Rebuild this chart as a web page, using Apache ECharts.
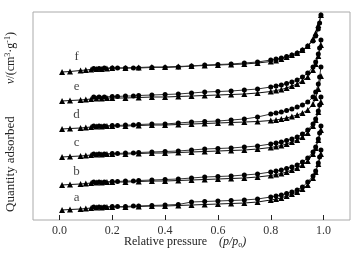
<!DOCTYPE html>
<html>
<head>
<meta charset="utf-8">
<script src="https://cdn.jsdelivr.net/npm/echarts@6/dist/echarts.min.js"></script>
<style>
  html, body { margin: 0; padding: 0; background: #fff; }
  #chart { width: 363px; height: 258px; }
</style>
</head>
<body>
<div id="chart"></div>
<script>
// relative pressure points (adsorption goes up, desorption comes back down)
const adsP = [0.01, 0.04, 0.08, 0.10, 0.12, 0.14, 0.16, 0.18, 0.20, 0.25, 0.30, 0.35, 0.40, 0.45, 0.50, 0.55,
  0.60, 0.65, 0.70, 0.75, 0.80, 0.82, 0.84, 0.86, 0.88, 0.90, 0.92, 0.94, 0.96, 0.97, 0.98, 0.99];
const desP = [0.99, 0.985, 0.98, 0.97, 0.96, 0.94, 0.92, 0.90, 0.88, 0.86, 0.84, 0.82, 0.80, 0.75, 0.70, 0.65,
  0.60, 0.55, 0.50, 0.45, 0.40, 0.35, 0.30, 0.28, 0.25, 0.22, 0.20, 0.17, 0.15, 0.13];

// quantity adsorbed (curves stacked with an offset, arbitrary units)
const adsA = [10, 10.5, 11, 11.5, 12, 12.5, 12.5, 13, 13, 13, 13.5, 14, 14, 14.5, 15, 15.5, 16, 16.5, 17, 18, 20, 21, 22, 24, 26, 28, 31, 35, 42, 48, 56, 66];
const desA = [70, 63, 57, 49, 44, 38, 33, 30, 28, 26.5, 25, 24, 23, 21, 20, 19.5, 19, 18.5, 18, 15.5, 15, 14.5, 14, 14, 13.5, 13.5, 13.5, 13, 13, 13];
const adsB = [35, 35.5, 36, 36.5, 37, 37.5, 37.5, 38, 38, 38, 38.5, 39, 39, 39.5, 40, 40.5, 41, 41.5, 42, 43, 44.5, 45.5, 46.5, 48, 50, 52, 55, 59, 66, 72, 80, 90];
const desB = [94, 87, 81, 73, 68, 62, 58, 55, 53, 51.5, 50, 49, 48, 46, 45, 44, 43.5, 43, 42, 41, 40.5, 40, 39.5, 39, 39, 38.5, 38.5, 38, 38, 38];
const adsC = [63, 63.5, 64, 64.5, 65, 65.5, 65.5, 66, 66, 66, 66.5, 67, 67, 67.5, 68, 68.5, 69, 69.5, 70, 71, 72.5, 73.5, 74.5, 76, 78, 80, 83, 87, 94, 100, 108, 118];
const desC = [123, 115, 109, 101, 96, 90, 86, 83, 81, 79.5, 78, 77, 76, 74, 73, 72, 71.5, 71, 70, 69, 68.5, 68, 67.5, 67, 67, 66.5, 66.5, 66, 66, 66];
const adsD = [91, 91.5, 92, 92.5, 93, 93.5, 93.5, 94, 94, 94, 94.5, 95, 95, 95.5, 96, 96.5, 97, 97.5, 98, 98.5, 99.5, 100, 101, 102, 103.5, 105, 107, 110, 116, 122, 131, 144];
const desD = [153, 143, 136, 128, 123, 118, 115, 113, 111, 109.5, 108, 107, 106, 103, 101, 100, 99, 98.5, 98, 97, 96, 96, 95.5, 95, 95, 94.5, 94.5, 94, 94, 94];
const adsE = [119, 119.5, 120, 120.5, 121, 121.5, 121.5, 122, 122, 122, 122.5, 123, 123, 123.5, 124, 124.5, 125, 125.5, 126, 127, 128.5, 129.5, 130.5, 132, 134, 136, 139, 143, 150, 156, 164, 175];
const desE = [180, 172, 166, 158, 153, 147, 143, 140, 138, 136.5, 135, 134, 133, 131, 130, 129, 128.5, 128, 127, 126, 125.5, 125, 124.5, 124, 124, 123.5, 123.5, 123, 123, 123];
const adsF = [148, 148.5, 149.5, 150, 150.5, 151, 151, 151.5, 152, 152, 152.5, 153, 153, 153.5, 154, 154.5, 155, 155.5, 156, 157, 158.5, 159.5, 161, 163, 165, 167, 170, 174, 181, 187, 195, 205];
const desF = [205, 197, 191, 184, 179, 174, 170, 167, 165, 163.5, 162, 161, 160, 158, 157, 156, 155.5, 155, 154, 153, 152.5, 152.5, 152, 152, 152, 152, 152, 152, 151.5, 151.5];

const curveNames = ['a', 'b', 'c', 'd', 'e', 'f'];
const labelP = [0.065, 0.065, 0.065, 0.065, 0.065, 0.065];
const labelY = [22, 48, 77, 105, 133, 163];
const xTicks = [0, 0.2, 0.4, 0.6, 0.8, 1.0];

const adsAll = [adsA, adsB, adsC, adsD, adsE, adsF];
const desAll = [desA, desB, desC, desD, desE, desF];

const chart = echarts.init(document.getElementById('chart'));
const serif = '"Liberation Serif", "DejaVu Serif", serif';

const series = [];
curveNames.forEach((name, i) => {
  series.push({
    name: name + '-ads',
    type: 'line',
    data: adsP.map((p, k) => [p, adsAll[i][k]]),
    symbol: 'triangle',
    symbolSize: 6,
    showAllSymbol: true,
    lineStyle: { color: '#111', width: 1 },
    itemStyle: { color: '#000' },
    animation: false
  });
  series.push({
    name: name + '-des',
    type: 'line',
    data: desP.map((p, k) => [p, desAll[i][k]]),
    symbol: 'circle',
    symbolSize: 5,
    showAllSymbol: true,
    lineStyle: { color: '#333', width: 1 },
    itemStyle: { color: '#000' },
    animation: false
  });
});
series.push({
  type: 'scatter',
  data: curveNames.map((n, i) => [labelP[i], labelY[i], n]),
  symbolSize: 0,
  label: {
    show: true,
    position: 'inside',
    formatter: (p) => p.data[2],
    fontFamily: serif,
    fontSize: 13,
    color: '#111'
  },
  animation: false
});

const option = {
  backgroundColor: '#fff',
  grid: {
    left: 33, right: 13, top: 12, bottom: 38,
    show: true,
    borderColor: '#aaa',
    borderWidth: 1
  },
  xAxis: {
    type: 'value',
    min: -0.1,
    max: 1.1,
    axisLine: { show: false },
    splitLine: { show: false },
    axisTick: {
      show: true,
      inside: true,
      length: 5,
      customValues: xTicks,
      lineStyle: { color: '#222' }
    },
    axisLabel: {
      customValues: xTicks,
      formatter: (v) => v.toFixed(1),
      fontFamily: serif,
      fontSize: 12,
      color: '#333',
      margin: 5
    }
  },
  yAxis: {
    type: 'value',
    min: 0,
    max: 208,
    axisLine: { show: false },
    axisTick: { show: false },
    axisLabel: { show: false },
    splitLine: { show: false }
  },
  graphic: [
    {
      type: 'text',
      left: 124,
      top: 236,
      style: {
        text: 'Relative pressure    {i|(p/p}{s|o}{i|)}',
        font: '12px ' + serif,
        fill: '#222',
        rich: {
          i: { fontFamily: serif, fontSize: 12, fontStyle: 'italic', fill: '#222' },
          s: { fontFamily: serif, fontSize: 8, fill: '#222', padding: [6, 0, 0, 0] }
        }
      }
    },
    {
      type: 'text',
      x: 4,
      y: 212,
      rotation: Math.PI / 2,
      style: {
        text: 'Quantity adsorbed',
        font: '13px ' + serif,
        fill: '#222'
      }
    },
    {
      type: 'text',
      x: 4,
      y: 84,
      rotation: Math.PI / 2,
      style: {
        text: '{i|v}/(cm{s|3}·g{s|-1})',
        font: '12px ' + serif,
        fill: '#222',
        rich: {
          i: { fontFamily: serif, fontSize: 12, fontStyle: 'italic', fill: '#222' },
          s: { fontFamily: serif, fontSize: 8, fill: '#222', padding: [0, 0, 5, 0] }
        }
      }
    }
  ],
  series: series
};

chart.setOption(option);
</script>
</body>
</html>
